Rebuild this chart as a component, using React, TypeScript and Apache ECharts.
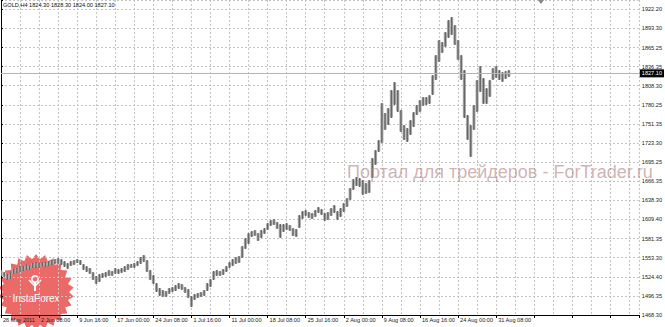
import React, { useEffect, useRef } from "react";
import * as echarts from "echarts";

const TITLE = "GOLD,H4 1824.30 1828.30 1824.00 1827.10";
const WATERMARK = "Портал для трейдеров - ForTrader.ru";
const LOGO_TEXT = "InstaForex";

// one label every 12 columns (each column groups ~2.7 H4 bars)
const X_LABELS = [
  "26 May 2011", "2 Jun 08:00", "9 Jun 16:00", "17 Jun 00:00", "24 Jun 08:00",
  "1 Jul 16:00", "11 Jul 00:00", "18 Jul 08:00", "25 Jul 16:00", "2 Aug 00:00",
  "9 Aug 08:00", "16 Aug 16:00", "24 Aug 00:00", "31 Aug 08:00",
];
const X_LABEL_EVERY = 12;

const Y_LABELS = [
  "1468.30", "1496.35", "1524.40", "1553.30", "1581.35", "1609.40", "1638.30",
  "1666.35", "1695.25", "1723.30", "1751.35", "1780.25", "1808.30", "1836.35",
  "1865.25", "1893.30", "1922.20",
];
const Y_MIN = 1468.3;
const Y_MAX = 1936.0;
const Y_STEP = 28.36875;

const LAST_PRICE = 1827.1;

const HIGH = [
  1535.1, 1532.1, 1529.2, 1532.1, 1536.6, 1538.1, 1541.0, 1541.0, 1544.0, 1542.5,
  1545.5, 1547.0, 1545.5, 1547.0, 1547.0, 1548.5, 1550.0, 1551.4, 1552.9, 1551.4,
  1548.5, 1545.5, 1548.5, 1550.0, 1551.4, 1550.0, 1544.0, 1541.0, 1538.1, 1532.1,
  1526.2, 1529.2, 1530.7, 1532.1, 1535.1, 1533.6, 1538.1, 1536.6, 1538.1, 1541.0,
  1544.0, 1544.0, 1545.5, 1548.5, 1554.4, 1557.4, 1550.0, 1535.1, 1527.7, 1515.8,
  1508.4, 1505.4, 1503.9, 1508.4, 1509.9, 1512.8, 1515.8, 1514.3, 1509.9, 1506.9,
  1496.5, 1499.5, 1501.0, 1502.4, 1505.4, 1515.8, 1521.7, 1533.6, 1535.1, 1533.6,
  1536.6, 1541.0, 1547.0, 1551.4, 1554.4, 1555.9, 1570.7, 1582.6, 1590.0, 1593.0,
  1594.5, 1590.0, 1594.5, 1597.5, 1604.9, 1609.3, 1610.8, 1606.4, 1603.4, 1603.4,
  1604.9, 1601.9, 1597.5, 1596.0, 1616.8, 1622.7, 1624.2, 1621.2, 1619.7, 1624.2,
  1628.7, 1625.7, 1619.7, 1621.2, 1627.2, 1631.6, 1622.7, 1627.2, 1634.6, 1642.0,
  1656.9, 1670.2, 1673.2, 1671.7, 1668.7, 1664.3, 1668.7, 1701.4, 1713.3, 1728.1,
  1783.1, 1768.2, 1775.6, 1802.4, 1814.3, 1802.4, 1772.7, 1750.4, 1746.0, 1757.8,
  1769.7, 1780.1, 1787.5, 1792.0, 1792.0, 1794.9, 1824.6, 1854.3, 1876.6, 1873.6,
  1888.5, 1906.3, 1910.8, 1898.9, 1876.6, 1854.3, 1832.1, 1765.3, 1750.4, 1780.1,
  1817.2, 1838.0, 1820.2, 1805.3, 1817.2, 1835.0, 1838.0, 1832.1, 1829.1, 1830.6,
  1832.1,
];
const LOW = [
  1526.2, 1524.7, 1520.3, 1521.7, 1529.2, 1530.7, 1532.1, 1533.6, 1535.1, 1535.1,
  1538.1, 1538.1, 1538.1, 1541.0, 1539.6, 1541.0, 1542.5, 1544.0, 1544.0, 1542.5,
  1539.6, 1536.6, 1541.0, 1542.5, 1545.5, 1542.5, 1535.1, 1532.1, 1529.2, 1520.3,
  1514.3, 1517.3, 1523.2, 1524.7, 1526.2, 1526.2, 1529.2, 1529.2, 1530.7, 1532.1,
  1535.1, 1538.1, 1538.1, 1541.0, 1544.0, 1547.0, 1532.1, 1520.3, 1514.3, 1502.4,
  1496.5, 1495.0, 1495.0, 1499.5, 1502.4, 1503.9, 1506.9, 1505.4, 1501.0, 1493.5,
  1480.2, 1490.6, 1493.5, 1495.0, 1496.5, 1503.9, 1509.9, 1520.3, 1526.2, 1526.2,
  1527.7, 1532.1, 1538.1, 1541.0, 1544.0, 1545.5, 1552.9, 1566.3, 1573.7, 1584.1,
  1585.6, 1578.2, 1582.6, 1588.6, 1594.5, 1600.4, 1601.9, 1596.0, 1582.6, 1591.5,
  1594.5, 1593.0, 1585.6, 1584.1, 1597.5, 1610.8, 1615.3, 1612.3, 1610.8, 1613.8,
  1619.7, 1616.8, 1607.9, 1609.3, 1615.3, 1619.7, 1609.3, 1613.8, 1621.2, 1628.7,
  1639.0, 1653.9, 1659.8, 1658.3, 1646.5, 1648.0, 1649.4, 1671.7, 1691.0, 1710.3,
  1723.7, 1743.0, 1750.4, 1760.8, 1780.1, 1769.7, 1740.0, 1728.1, 1725.2, 1735.6,
  1747.4, 1765.3, 1769.7, 1778.6, 1780.1, 1781.6, 1794.9, 1817.2, 1843.9, 1857.3,
  1866.2, 1879.6, 1884.0, 1869.2, 1846.9, 1817.2, 1760.8, 1728.1, 1702.9, 1743.0,
  1769.7, 1799.4, 1781.6, 1781.6, 1792.0, 1817.2, 1820.2, 1817.2, 1814.3, 1818.7,
  1821.7,
];

const FONT = "'Liberation Sans', Arial, sans-serif";

function starPoints(cx: number, cy: number, ro: number, ri: number, n: number) {
  const pts: number[][] = [];
  for (let k = 0; k < n * 2; k++) {
    const r = k % 2 === 0 ? ro : ri;
    const a = (k * Math.PI) / n - Math.PI / 2;
    pts.push([cx + r * Math.cos(a), cy + r * Math.sin(a)]);
  }
  return pts;
}

function textWidth(text: string, font: string) {
  try {
    const c = document.createElement("canvas").getContext("2d");
    if (!c) return 0;
    c.font = font;
    return c.measureText(text).width;
  } catch (e) {
    return 0;
  }
}

export default function App() {
  const ref = useRef<HTMLDivElement>(null);
  useEffect(() => {
    if (!ref.current) return;
    const chart = echarts.init(ref.current, undefined, { renderer: "svg" });
    const data = HIGH.map((h, i) => [i, LOW[i], h]);
    const xMax = 639 / 3.18;
    const grid = { color: "#c4c4c4", type: [2, 2], width: 1 };
    const wmSize = 18;
    const wmW = textWidth(WATERMARK, `${wmSize}px 'Liberation Sans'`);
    const wmScale = wmW > 0 ? 306 / wmW : 1;
    const option: any = {
      animation: false,
      backgroundColor: "#ffffff",
      grid: { left: 1, right: 25, top: 0, bottom: 12 },
      xAxis: {
        type: "value",
        min: 0,
        max: xMax,
        interval: X_LABEL_EVERY,
        axisLine: { show: true, lineStyle: { color: "#000", width: 1 } },
        axisTick: { show: true, length: 3, lineStyle: { color: "#000" } },
        axisLabel: {
          show: true,
          align: "left",
          margin: 2,
          fontSize: 5.6,
          fontFamily: FONT,
          color: "#222",
          padding: [0, 0, 0, 2],
          formatter: (v: number) => {
            const idx = Math.round(v / X_LABEL_EVERY);
            if (Math.abs(v - idx * X_LABEL_EVERY) > 0.01) return "";
            return X_LABELS[idx] ?? "";
          },
        },
        splitLine: { show: true, lineStyle: grid },
        minorTick: { show: false, splitNumber: 2 },
        minorSplitLine: { show: true, lineStyle: grid },
      },
      yAxis: {
        type: "value",
        position: "right",
        min: Y_MIN,
        max: Y_MAX,
        interval: Y_STEP,
        axisLine: { show: true, lineStyle: { color: "#000", width: 1 } },
        axisTick: { show: true, length: 2, inside: false, lineStyle: { color: "#000" } },
        axisLabel: {
          show: true,
          margin: 3,
          fontSize: 5.6,
          fontFamily: FONT,
          color: "#222",
          formatter: (v: number) => {
            const idx = Math.round((v - Y_MIN) / Y_STEP);
            if (Math.abs(v - (Y_MIN + idx * Y_STEP)) > 0.5) return "";
            return Y_LABELS[idx] ?? "";
          },
        },
        splitLine: { show: true, lineStyle: grid },
      },
      series: [
        {
          type: "line",
          data: [],
          silent: true,
          markLine: {
            silent: true,
            symbol: "none",
            lineStyle: { color: "#b4b4b4", type: "solid", width: 1 },
            label: {
              show: true,
              position: "end",
              distance: 1,
              formatter: LAST_PRICE.toFixed(2),
              backgroundColor: "#000",
              color: "#fff",
              fontSize: 5.6,
              fontFamily: FONT,
              padding: [1, 2, 1, 2],
            },
            data: [{ yAxis: LAST_PRICE }],
          },
          z: 1,
        },
        {
          type: "custom",
          clip: true,
          z: 3,
          encode: { x: 0, y: [1, 2] },
          data,
          renderItem: (params: any, api: any) => {
            const x = api.value(0);
            const lo = api.coord([x, api.value(1)]);
            const hi = api.coord([x, api.value(2)]);
            const h = Math.max(1, lo[1] - hi[1]);
            return {
              type: "group",
              children: [
                {
                  type: "rect",
                  shape: { x: lo[0] - 1.6, y: hi[1] + 0.5, width: 3.2, height: Math.max(1, h - 1) },
                  style: { fill: "#b2b2b2" },
                },
                {
                  type: "rect",
                  shape: { x: lo[0] - 0.7, y: hi[1], width: 1.4, height: h },
                  style: { fill: "#666666" },
                },
              ],
            };
          },
        },
      ],
      graphic: [
        {
          type: "text",
          left: 3,
          top: 2,
          z: 20,
          style: { text: TITLE, fontSize: 5.6, fontFamily: FONT, fill: "#111" },
        },
        {
          type: "polygon",
          z: 20,
          shape: { points: [[538, 0], [544, 0], [541, 4]] },
          style: { fill: "#888" },
        },
        {
          type: "text",
          x: 347,
          y: 172,
          scaleX: wmScale,
          z: 20,
          style: {
            text: WATERMARK,
            fontSize: wmSize,
            fontFamily: "'Liberation Sans'",
            fill: "rgba(176,128,128,0.6)",
            verticalAlign: "middle",
            align: "left",
          },
        },
        {
          type: "group",
          z: 30,
          children: [
            {
              type: "polygon",
              shape: { points: starPoints(36, 292, 38, 33, 26) },
              style: { fill: "rgba(232,80,76,0.85)" },
            },
            {
              type: "circle",
              shape: { cx: 35, cy: 279, r: 3.2 },
              style: { fill: "none", stroke: "#fff", lineWidth: 1.6 },
            },
            {
              type: "polyline",
              shape: { points: [[29, 280], [35, 286], [41, 280]] },
              style: { fill: "none", stroke: "#fff", lineWidth: 1.6 },
            },
            {
              type: "line",
              shape: { x1: 35, y1: 283, x2: 35, y2: 291 },
              style: { stroke: "#fff", lineWidth: 2 },
            },
            {
              type: "text",
              x: 36,
              y: 298,
              style: {
                text: LOGO_TEXT,
                fontSize: 10,
                fontFamily: FONT,
                fill: "#fff",
                align: "center",
                verticalAlign: "middle",
              },
            },
          ],
        },
      ],
    };
    chart.setOption(option);
    return () => chart.dispose();
  }, []);
  return (
    <div
      ref={ref}
      style={{ position: "fixed", left: 0, top: 0, width: 665, height: 327, background: "#fff" }}
    />
  );
}
